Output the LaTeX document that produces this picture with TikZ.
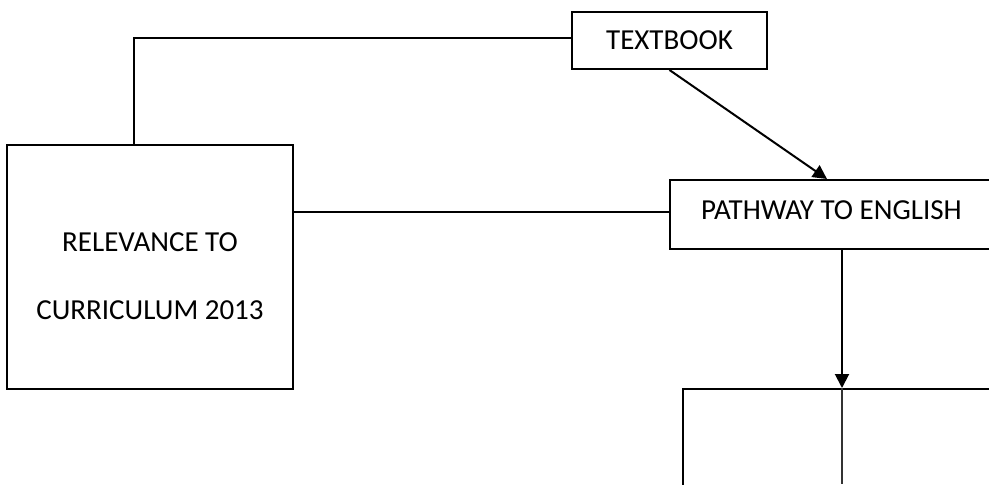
\documentclass[tikz,border=0pt]{standalone}
\usepackage{fontspec}
\setmainfont{Carlito}
\usetikzlibrary{arrows.meta}
\tikzset{
  boxnode/.style={draw=black, line width=2pt, inner sep=0pt, fill=none},
  txt/.style={inner sep=0pt, font=\fontsize{29}{68}\selectfont, text=black},
  link/.style={draw=black, line width=2pt},
  arrowlink/.style={draw=black, line width=2pt, -{Triangle[length=14pt,width=14pt]}},
  thinlink/.style={draw=black!80, line width=1.5pt}
}
\begin{document}
\begin{tikzpicture}[x=1pt,y=-1pt]
\useasboundingbox (0,0) rectangle (989,493);
\begin{scope}
\clip (0,0) rectangle (989,484);
% boxes
\node[boxnode, minimum width=195pt, minimum height=57pt] (textbook) at (669.5,40.5) {};
\node[txt] (textbooktext) at (textbook.center) {TEXTBOOK};
\node[boxnode, minimum width=323pt, minimum height=69pt] (pathway) at (831.5,214.5) {};
\node[txt] (pathwaytext) at ([yshift=4pt]pathway.center) {PATHWAY TO ENGLISH};
\node[boxnode, minimum width=286pt, minimum height=244pt] (rel) at (150,267) {};
\node[txt, align=center] (reltext) at ([yshift=-9.5pt]rel.center) {RELEVANCE TO\\CURRICULUM 2013};
\node[boxnode, minimum width=317pt, minimum height=211pt] (bottom) at (841.5,494.5) {};
\coordinate (cut) at (842,484);
% connectors
\draw[link] ([yshift=2.5pt]textbook.west) -| ([xshift=-16pt]rel.north);
\draw[link] ([yshift=2.5pt]pathway.west) -- ([yshift=2.5pt]pathway.west -| rel.east);
\draw[arrowlink] (textbook.south) -- ([xshift=-4.5pt]pathway.north);
\draw[arrowlink] (pathway.south -| cut) -- (bottom.north -| cut);
\draw[thinlink] (bottom.north -| cut) -- (cut);
\end{scope}
\end{tikzpicture}
\end{document}
